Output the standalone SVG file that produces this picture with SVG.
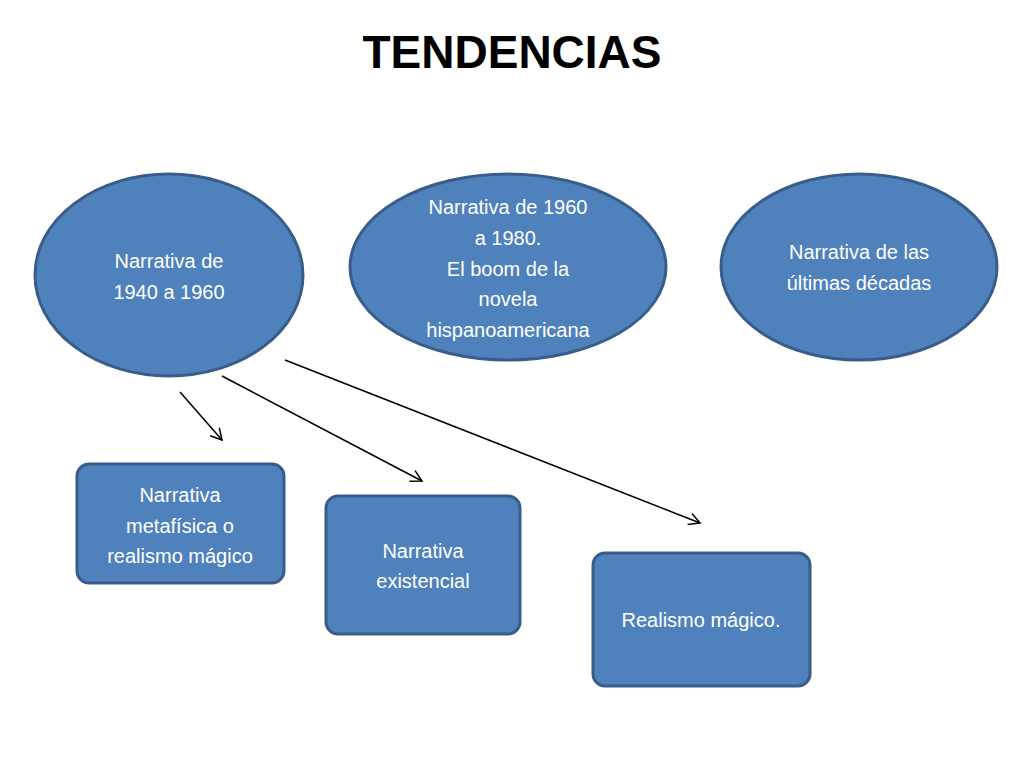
<svg xmlns="http://www.w3.org/2000/svg" width="1024" height="768" viewBox="0 0 1024 768">
<style>
.n{fill:#4F81BD;stroke:#385D8A;stroke-width:3}
.t{fill:#fff;font-family:"Liberation Sans",Arial,sans-serif;font-size:20px;text-anchor:middle}
.c{stroke:#000;stroke-width:1.5;fill:none;marker-end:url(#a)}
</style>
<defs><marker id="a" markerWidth="14" markerHeight="14" refX="12" refY="7" orient="auto" markerUnits="userSpaceOnUse"><path d="M1,1 L12,7 L1,13" fill="none" stroke="#000" stroke-width="1.5"/></marker></defs>
<rect width="1024" height="768" fill="#fff"/>
<text x="512" y="68" font-family="Liberation Sans,Arial,sans-serif" font-size="46" font-weight="bold" text-anchor="middle">TENDENCIAS</text>
<g id="n1"><ellipse class="n" cx="169" cy="275" rx="134" ry="101"/><text class="t" x="169" y="268">Narrativa de</text><text class="t" x="169" y="299">1940 a 1960</text></g>
<g id="n2"><ellipse class="n" cx="508" cy="267" rx="158" ry="93"/><text class="t" x="508" y="214">Narrativa de 1960</text><text class="t" x="508" y="245">a 1980.</text><text class="t" x="508" y="276">El boom de la</text><text class="t" x="508" y="306">novela</text><text class="t" x="508" y="337">hispanoamericana</text></g>
<g id="n3"><ellipse class="n" cx="859" cy="267" rx="138" ry="93"/><text class="t" x="859" y="259">Narrativa de las</text><text class="t" x="859" y="290">últimas décadas</text></g>
<g id="n4"><rect class="n" x="77" y="464" width="207" height="119" rx="12"/><text class="t" x="180" y="502">Narrativa</text><text class="t" x="180" y="533">metafísica o</text><text class="t" x="180" y="563">realismo mágico</text></g>
<g id="n5"><rect class="n" x="326" y="496" width="194" height="138" rx="12"/><text class="t" x="423" y="558">Narrativa</text><text class="t" x="423" y="588">existencial</text></g>
<g id="n6"><rect class="n" x="593" y="553" width="217" height="133" rx="12"/><text class="t" x="701" y="627">Realismo mágico.</text></g>
<g id="connectors">
<line class="c" x1="180" y1="392" x2="222" y2="440"/>
<line class="c" x1="222" y1="376" x2="422" y2="481"/>
<line class="c" x1="285" y1="360" x2="700" y2="523"/>
</g>
</svg>
